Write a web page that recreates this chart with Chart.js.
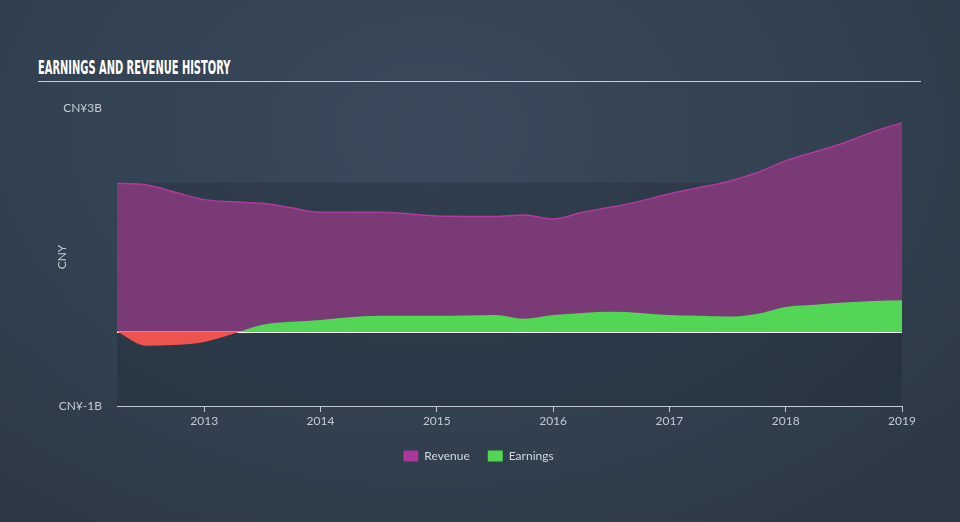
<!DOCTYPE html>
<html>
<head>
<meta charset="utf-8">
<script src="https://cdn.jsdelivr.net/npm/chart.js@4.4.0/dist/chart.umd.min.js"></script>
<style>
  html, body { margin: 0; padding: 0; }
  body {
    width: 960px; height: 522px; overflow: hidden; position: relative;
    background: radial-gradient(ellipse 70% 90% at 45% 25%, #3a4a5c 0%, #334252 55%, #2d3946 100%);
  }
  #title {
    position: absolute; left: 38px; top: 55px;
    font-family: "Liberation Sans Narrow", "DejaVu Sans Condensed", sans-serif;
    font-weight: bold; font-size: 20px; color: #ffffff;
    transform: scaleX(0.55); transform-origin: 0 0; white-space: nowrap;
  }
  #rule { position: absolute; left: 38px; top: 81px; width: 883px; height: 1px; background: #c9ced4; }
  #wrap { position: absolute; left: 0; top: 0; width: 960px; height: 522px; }
</style>
</head>
<body>
<div id="title">EARNINGS AND REVENUE HISTORY</div>
<div id="rule"></div>
<div id="wrap"><canvas id="chart" width="960" height="522"></canvas></div>
<script>
// quarterly points, decimal years
var quarters = [2012.25, 2012.5, 2012.75, 2013.0, 2013.25, 2013.5, 2013.75, 2014.0,
                2014.25, 2014.5, 2014.75, 2015.0, 2015.25, 2015.5, 2015.75, 2016.0,
                2016.25, 2016.5, 2016.75, 2017.0, 2017.25, 2017.5, 2017.75, 2018.0,
                2018.25, 2018.5, 2018.75, 2019.0];

// CNY, billions
var revenue = [1.99, 1.97, 1.87, 1.77, 1.74, 1.72, 1.66, 1.60,
               1.60, 1.60, 1.58, 1.55, 1.545, 1.545, 1.565, 1.51,
               1.60, 1.67, 1.75, 1.85, 1.93, 2.01, 2.13, 2.29,
               2.41, 2.53, 2.68, 2.80];

var earnings = [0.0, -0.19, -0.18, -0.14, -0.03, 0.09, 0.13, 0.155,
                0.19, 0.21, 0.21, 0.21, 0.215, 0.22, 0.17, 0.22,
                0.25, 0.265, 0.25, 0.22, 0.21, 0.20, 0.235, 0.33,
                0.36, 0.39, 0.41, 0.42];

var yearTicks = [2013, 2014, 2015, 2016, 2017, 2018, 2019];
var valueTicks = [-1e9, 3e9];

function toPoints(vals) {
    return quarters.map(function (q, i) { return { x: q, y: vals[i] * 1e9 }; });
}

var tickFont = { family: "Lato, 'Open Sans', sans-serif", size: 12 };

// dark band behind the plot and the white zero line (under the fills)
var bandPlugin = {
    id: 'band',
    beforeDatasetsDraw: function (chart) {
        var ctx = chart.ctx, area = chart.chartArea, y = chart.scales.y;
        var top = y.getPixelForValue(2e9), bottom = y.getPixelForValue(-1e9);
        var zero = y.getPixelForValue(0);
        ctx.save();
        ctx.fillStyle = 'rgba(20,28,38,0.22)';
        ctx.fillRect(area.left, top, area.right - area.left, bottom - top);
        ctx.strokeStyle = '#ffffff';
        ctx.lineWidth = 3;
        ctx.beginPath();
        ctx.moveTo(area.left, zero);
        ctx.lineTo(area.right, zero);
        ctx.stroke();
        ctx.restore();
    }
};

var chart = new Chart(document.getElementById('chart'), {
    type: 'line',
    data: {
        datasets: [
            {
                label: 'Revenue',
                data: toPoints(revenue),
                borderColor: '#b2399f',
                borderWidth: 1.5,
                backgroundColor: '#7a3a75',
                fill: 'origin',
                pointRadius: 0,
                order: 2,
                cubicInterpolationMode: 'monotone'
            },
            {
                label: 'Earnings',
                data: toPoints(earnings),
                borderColor: 'rgba(0,0,0,0)',
                borderWidth: 0,
                backgroundColor: '#53d655',
                fill: { target: 'origin', above: '#53d655', below: '#ee5350' },
                pointRadius: 0,
                order: 1,
                cubicInterpolationMode: 'monotone'
            }
        ]
    },
    options: {
        responsive: false,
        animation: false,
        layout: { padding: { left: 55, right: 58, top: 108, bottom: 50 } },
        scales: {
            x: {
                type: 'linear',
                min: 2012.25,
                max: 2019.0,
                afterBuildTicks: function (scale) {
                    scale.ticks = yearTicks.map(function (v) { return { value: v }; });
                },
                afterFit: function (scale) { scale.height = 26; },
                ticks: {
                    color: '#c3cad2',
                    font: tickFont,
                    padding: 2,
                    maxRotation: 0,
                    callback: function (v) { return String(v); }
                },
                grid: { drawOnChartArea: false, drawTicks: true, tickLength: 6, color: '#c3cad2' },
                border: { display: true, color: '#c3cad2', width: 1 }
            },
            y: {
                min: -1e9,
                max: 3e9,
                afterBuildTicks: function (scale) {
                    scale.ticks = valueTicks.map(function (v) { return { value: v }; });
                },
                afterFit: function (scale) { scale.width = 62; },
                ticks: {
                    color: '#c3cad2',
                    font: tickFont,
                    padding: 15,
                    callback: function (v) { return 'CN¥' + (v / 1e9) + 'B'; }
                },
                grid: { display: false, drawTicks: false },
                border: { display: false },
                title: {
                    display: true,
                    text: 'CNY',
                    color: '#c3cad2',
                    font: tickFont,
                    padding: 0
                }
            }
        },
        plugins: {
            legend: {
                position: 'bottom',
                labels: {
                    color: '#d3d8de',
                    font: { family: "Lato, 'Open Sans', sans-serif", size: 12 },
                    boxWidth: 15,
                    boxHeight: 11,
                    padding: 18,
                    generateLabels: function (c) {
                        var fills = ['#a9389a', '#53d655'];
                        return c.data.datasets.map(function (ds, i) {
                            return {
                                text: ds.label,
                                fillStyle: fills[i],
                                strokeStyle: fills[i],
                                lineWidth: 0,
                                fontColor: '#d3d8de',
                                datasetIndex: i
                            };
                        });
                    }
                }
            },
            tooltip: { enabled: false }
        }
    },
    plugins: [bandPlugin]
});
</script>
</body>
</html>
